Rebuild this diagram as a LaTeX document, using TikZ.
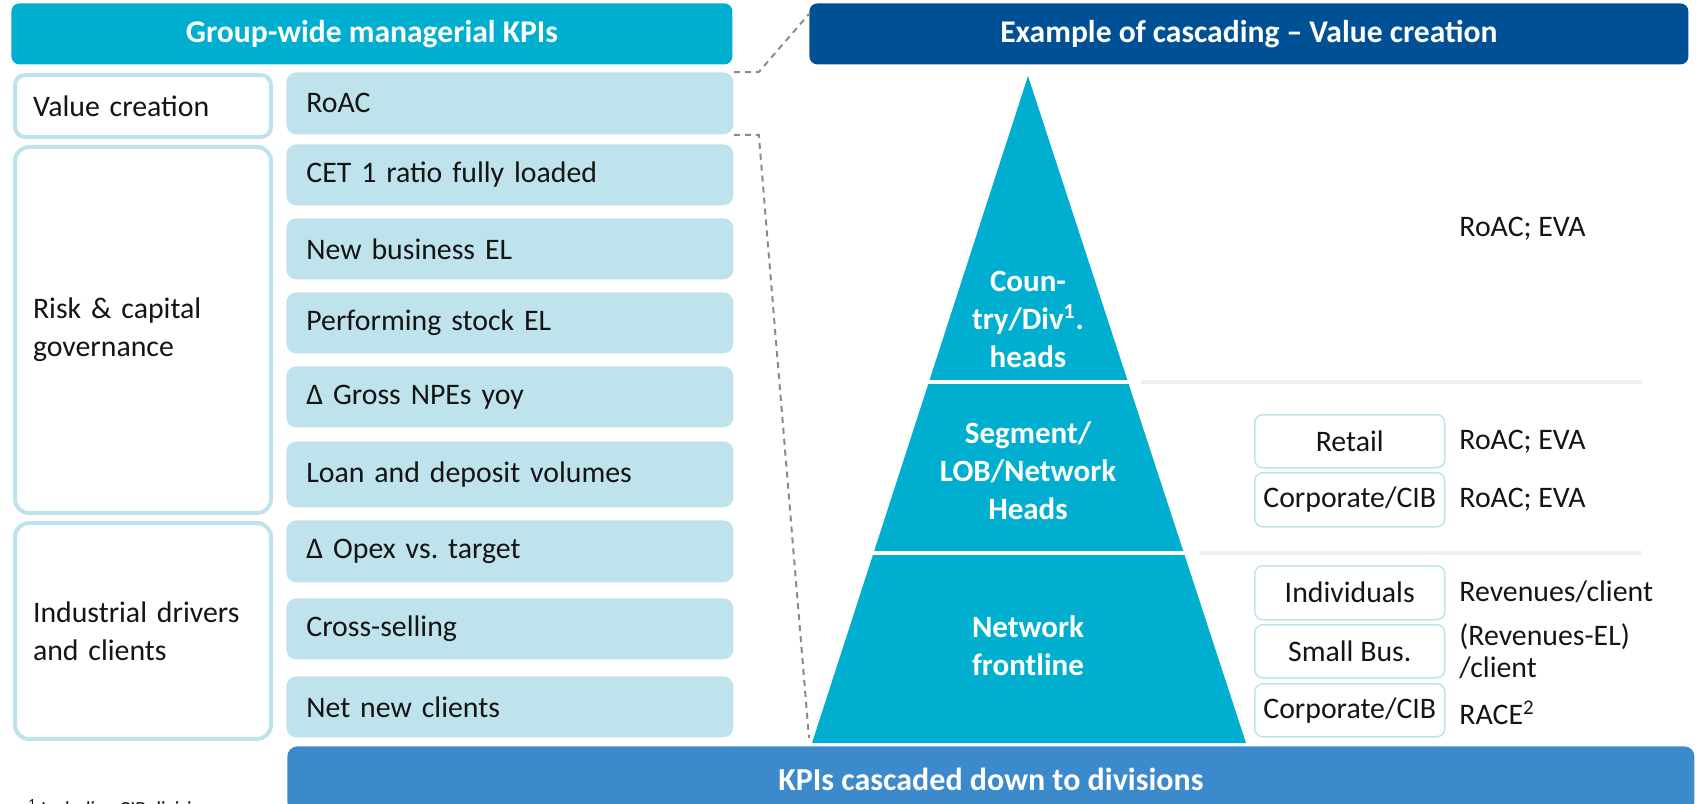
\documentclass[tikz,border=0pt]{standalone}
\usepackage{fontspec}
\setmainfont{Carlito}
\frenchspacing
\definecolor{kcyan}{HTML}{00AFD0}
\definecolor{kdark}{HTML}{005096}
\definecolor{klight}{HTML}{BFE3EC}
\definecolor{kbar}{HTML}{3C8ACB}
\definecolor{kink}{HTML}{141414}
\definecolor{kgrid}{HTML}{EFEFEF}
\definecolor{kdash}{HTML}{8A8A8A}
\begin{document}
\begin{tikzpicture}[x=0.5pt,y=-0.5pt,
  bodytext/.style={font=\fontsize{14.9}{19}\selectfont, text=kink},
  header/.style={anchor=north west, font=\bfseries\fontsize{15.8}{18}\selectfont,
    text=white, rounded corners=4pt, inner sep=0pt, minimum height=30.5pt},
  kpibox/.style={anchor=north west, fill=klight, rounded corners=5pt,
    inner xsep=10pt, inner ysep=0pt, align=left, text width=203.5pt,
    minimum height=#1, bodytext},
  groupbox/.style={anchor=north west, draw=klight, line width=2pt, fill=white,
    rounded corners=7pt, inner xsep=9pt, inner ysep=0pt, align=left,
    text width=110pt, minimum height=#1, bodytext},
  unitbox/.style={anchor=north west, draw=klight, line width=0.75pt,
    rounded corners=4pt, minimum width=95pt, minimum height=#1,
    inner sep=0pt, bodytext},
  kpival/.style={anchor=west, inner sep=0pt, align=left, bodytext,
    font=\fontsize{14.9}{16}\selectfont},
  tier/.style={text=white, align=center, inner sep=0pt,
    font=\bfseries\fontsize{15.5}{19}\selectfont},
  guide/.style={draw=kgrid, line width=2pt},
  linkline/.style={draw=kdash, line width=1pt, dash pattern=on 3pt off 2.5pt}
]
\useasboundingbox (0,0) rectangle (1696,803);

% ---- headers ----
\node[header, fill=kcyan, minimum width=360.5pt] (hdrL) at (11,3)
  {Group-wide managerial KPIs};
\node[header, fill=kdark, minimum width=439.5pt] (hdrR) at (809,3)
  {Example of cascading -- Value creation};

% ---- KPI groups (left column) ----
\node[groupbox=31pt, rounded corners=5pt] (gValue) at (13,73) {Value creation};
\node[groupbox=183pt] (gRisk) at (13,145) {Risk \& capital\\governance};
\node[groupbox=108pt] (gInd) at (13,521) {\mbox{Industrial drivers}\\and clients};

% ---- KPI list ----
\node[kpibox=31pt]   (roac)  at (286,72)  {RoAC};
\node[kpibox=30.5pt] (cet)   at (286,144) {CET 1 ratio fully loaded};
\node[kpibox=30.5pt] (nbel)  at (286,218) {New business EL};
\node[kpibox=30.5pt] (psel)  at (286,292) {Performing stock EL};
\node[kpibox=30.5pt] (npe)   at (286,366) {Δ Gross NPEs yoy};
\node[kpibox=33pt]   (loan)  at (286,441) {Loan and deposit volumes};
\node[kpibox=31pt]   (opex)  at (286,520) {Δ Opex vs. target};
\node[kpibox=30.5pt] (cross) at (286,598) {Cross-selling};
\node[kpibox=30.5pt] (netc)  at (286,676) {Net new clients};

% ---- pyramid ----
\coordinate (apex) at (1028,76);
\coordinate (pyrBL) at (812,743);
\coordinate (pyrBR) at (1246,743);
\fill[kcyan] (apex) -- (pyrBR) -- (pyrBL) -- cycle;
\draw[white, line width=1.6pt] (900,382) -- (1135,382);
\draw[white, line width=1.6pt] (860,553) -- (1195,553);

\node[tier] (tTop) at (1028,319) {Coun-\\try/Div\textsuperscript{1}.\\heads};
\node[tier] (tMid) at (1028,471) {Segment/\\LOB/Network\\Heads};
\node[tier] (tLow) at (1028,646) {Network\\frontline};

% ---- level separators ----
\draw[guide] (1141,382) -- (1642,382);
\draw[guide] (1200,553) -- (1642,553);

% ---- units and their KPIs ----
\node[kpival] (vTop) at (1459,229) {RoAC; EVA};

\node[unitbox=26.5pt] (uRet)  at (1254,414) {Retail};
\node[unitbox=27pt]   (uCorp) at (1254,472) {Corporate/CIB};
\node[kpival] (vRet)  at (1459,442) {RoAC; EVA};
\node[kpival] (vCorp) at (1459,500) {RoAC; EVA};

\node[unitbox=27pt]   (uInd)  at (1254,565) {Individuals};
\node[unitbox=26.5pt] (uSmb)  at (1254,624) {Small Bus.};
\node[unitbox=26.5pt] (uCib)  at (1254,683) {Corporate/CIB};
\node[kpival] (vInd)  at (1459,592) {Revenues/client};
\node[kpival] (vSmb)  at (1459,651) {(Revenues-EL)\\/client};
\node[kpival] (vCib)  at (1459,713) {RACE\textsuperscript{2}};

% ---- bottom banner ----
\node[anchor=north west, fill=kbar, rounded corners=5pt, minimum width=703.5pt,
  minimum height=33pt, inner sep=0pt, text=white,
  font=\bfseries\fontsize{16}{18}\selectfont] (banner) at (287,746)
  {KPIs cascaded down to divisions};

% ---- footnote ----
\node[anchor=north west, inner sep=0pt, text=kink,
  font=\fontsize{10}{12}\selectfont] (fn) at (28,799)
  {\textsuperscript{1} Including CIB division};

% ---- dashed zoom links from RoAC to the cascade ----
\draw[linkline] (roac.north east) -- ++(12.5pt,0) -- ([yshift=-5.5pt]hdrR.north west);
\draw[linkline] (roac.south east) -- ++(12.5pt,0) -- ([xshift=-1.5pt,yshift=2.5pt]pyrBL);
\end{tikzpicture}
\end{document}
